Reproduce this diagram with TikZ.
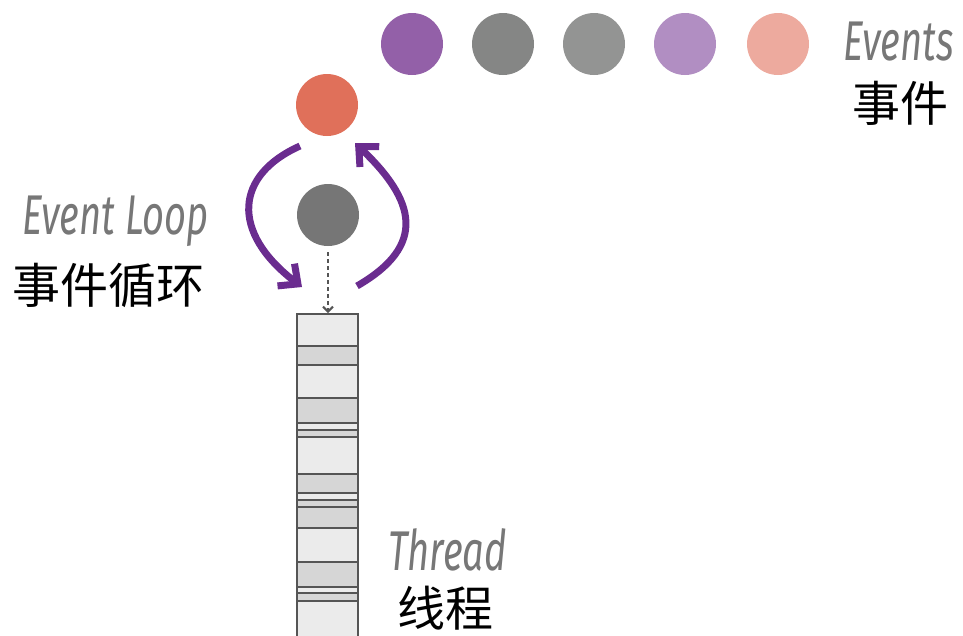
\documentclass[tikz,border=0pt]{standalone}
\usepackage{fontspec}
\usetikzlibrary{arrows.meta}
\newfontfamily\cjk{Noto Sans CJK SC}
\newfontfamily\latcond[FakeStretch=0.68]{Fira Sans}
\definecolor{evpurple}{HTML}{9360A8}
\definecolor{evgrayA}{HTML}{858685}
\definecolor{evgrayB}{HTML}{939493}
\definecolor{evlilac}{HTML}{B18EC2}
\definecolor{evsalmon}{HTML}{EDAA9E}
\definecolor{evred}{HTML}{E0705A}
\definecolor{evgrayC}{HTML}{767676}
\definecolor{looppurple}{HTML}{6A2C8F}
\definecolor{labelgray}{HTML}{777777}
\definecolor{bandlight}{HTML}{EBEBEB}
\definecolor{banddark}{HTML}{D6D6D6}
\definecolor{bandline}{HTML}{555555}
\tikzset{
  evdot/.style={circle, minimum size=62pt, inner sep=0pt},
  enlabel/.style={font=\latcond\itshape\fontsize{56}{60}\selectfont, text=labelgray, inner sep=0pt, anchor=base west},
  zhlabel/.style={font=\cjk\fontsize{48}{52}\selectfont, text=black, inner sep=0pt, anchor=base west},
  looparrow/.style={draw=looppurple, line width=7pt, -{Straight Barb[length=15pt,width=28pt]}},
  lightband/.style={fill=bandlight, draw=bandline, line width=1.2pt},
  darkband/.style={fill=banddark, draw=bandline, line width=1.2pt}
}
\begin{document}
\begin{tikzpicture}[x=1pt,y=-1pt]
\useasboundingbox (0,0) rectangle (963,635);
% events queue
\node[evdot, fill=evpurple] (e1) at (412,44) {};
\node[evdot, fill=evgrayA] (e2) at (503,44) {};
\node[evdot, fill=evgrayB] (e3) at (594,44) {};
\node[evdot, fill=evlilac] (e4) at (685,44) {};
\node[evdot, fill=evsalmon] (e5) at (778,44) {};
\node[enlabel] (evtxt) at (843,60) {Events};
\node[zhlabel] (evzh) at (852,121) {事件};
% loop
\node[evdot, fill=evred] (cur) at (327,105) {};
\node[evdot, fill=evgrayC] (mid) at (328,215) {};
\coordinate (la) at (300,146);
\coordinate (lb) at (302,287);
\coordinate (ra) at (357,286);
\coordinate (rb) at (355,143);
\draw[looparrow] (la) .. controls (235,175) and (230,232) .. (lb);
\draw[looparrow] (ra) .. controls (428,245) and (415,200) .. (rb);
\node[enlabel] (looptxt) at (22,234) {Event Loop};
\node[zhlabel] (loopzh) at (12,303) {事件循环};
% thread
\coordinate (tt) at (328,313);
\draw[lightband] (297,314) rectangle (358,346);
\draw[darkband] (297,346) rectangle (358,365);
\draw[lightband] (297,365) rectangle (358,398);
\draw[darkband] (297,398) rectangle (358,423);
\draw[lightband] (297,423) rectangle (358,430);
\draw[darkband] (297,430) rectangle (358,437);
\draw[lightband] (297,437) rectangle (358,474);
\draw[darkband] (297,474) rectangle (358,493);
\draw[lightband] (297,493) rectangle (358,500);
\draw[darkband] (297,500) rectangle (358,507);
\draw[darkband] (297,507) rectangle (358,528);
\draw[lightband] (297,528) rectangle (358,562);
\draw[darkband] (297,562) rectangle (358,587);
\draw[lightband] (297,587) rectangle (358,593);
\draw[darkband] (297,593) rectangle (358,601);
\draw[lightband] (297,601) rectangle (358,640);
\draw[draw=bandline, line width=2pt, dash pattern=on 4pt off 3pt, -{Straight Barb[length=5pt,width=10pt]}] (mid.south) ++(0,6) -- (tt);
\node[enlabel] (thtxt) at (388,570) {Thread};
\node[zhlabel] (thzh) at (397,626) {线程};
\end{tikzpicture}
\end{document}
